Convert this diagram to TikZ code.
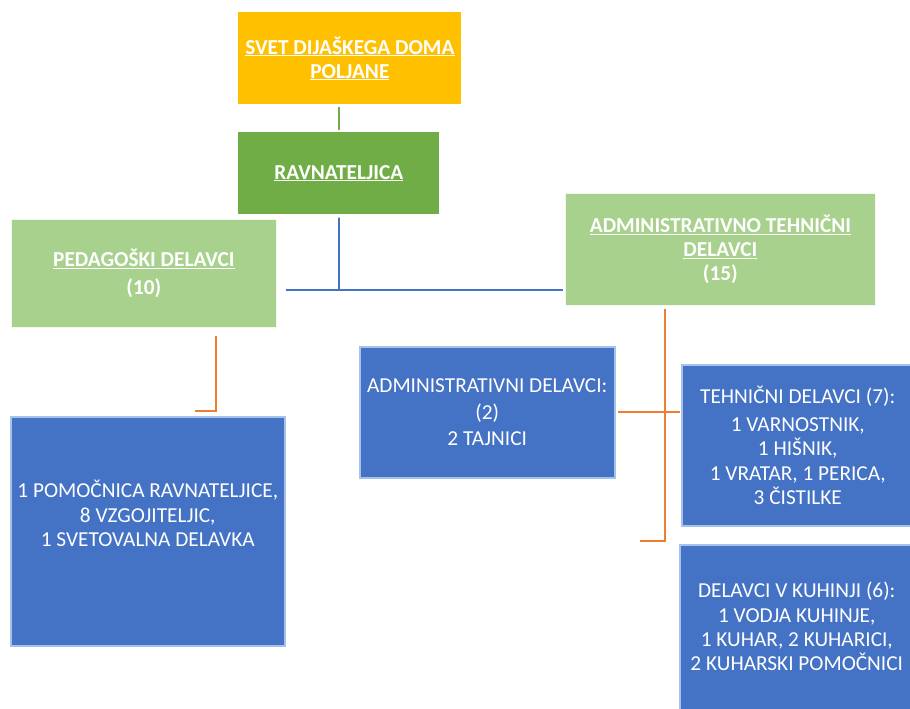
\documentclass[tikz,border=0pt]{standalone}
\usepackage{fontspec}
\setmainfont{Carlito}
\usetikzlibrary{positioning}
\definecolor{zlata}{HTML}{FFC000}
\definecolor{zelena}{HTML}{70AD47}
\definecolor{svetlozelena}{HTML}{A9D18E}
\definecolor{modra}{HTML}{4472C4}
\definecolor{robmodra}{HTML}{A4C2EA}
\definecolor{oranzna}{HTML}{ED7D31}
\newcommand{\dvigni}[2]{\raisebox{#1}[0pt][0pt]{\begin{tabular}{@{}c@{}}#2\end{tabular}}}

\begin{document}
\begin{tikzpicture}[x=1pt,y=-1pt,thin]
\tikzstyle{every node}=[font=\fontsize{21.3}{24.2}\selectfont, text=white, align=center, inner sep=0pt]
\tikzstyle{box}=[rectangle, anchor=north west]
\tikzstyle{naslov}=[box, font=\fontsize{21.3}{24}\selectfont\bfseries, draw=white!85!svetlozelena, line width=0.8pt]
\tikzstyle{oddelek}=[box, fill=modra, draw=robmodra, line width=1.5pt]
\tikzstyle{povezava}=[line width=1.8pt]

\useasboundingbox (0,0) rectangle (910,709);
\clip (0,0) rectangle (910,709);

\node[naslov]   (svet) at (238,12) [fill=zlata, draw=none, minimum width=223, minimum height=92] {\underline{SVET DIJAŠKEGA DOMA}\\\underline{POLJANE}};
\node[naslov]   (ravn) [below=27pt of svet.south west, anchor=north west, fill=zelena, draw=none, minimum width=201, minimum height=82] {\underline{RAVNATELJICA}};
\node[naslov]   (ped)  at (11,219) [fill=svetlozelena, minimum width=265, minimum height=108] {\underline{PEDAGOŠKI DELAVCI}\\[4pt](10)};
\node[naslov]   (admt) at (565,193) [fill=svetlozelena, minimum width=310, minimum height=112] {\underline{ADMINISTRATIVNO TEHNIČNI}\\\underline{DELAVCI}\\(15)};

\node[oddelek]  (vzg)  at (10,416) [minimum width=274, minimum height=229] {\dvigni{9pt}{1 POMOČNICA RAVNATELJICE,\\8 VZGOJITELJIC,\\1 SVETOVALNA DELAVKA}};
\node[oddelek]  (admd) at (359,346) [minimum width=255, minimum height=131] {ADMINISTRATIVNI DELAVCI:\\[2pt](2)\\[2pt]2 TAJNICI};
\node[oddelek]  (teh)  at (681,364) [minimum width=232, minimum height=161] {TEHNIČNI DELAVCI (7):\\[4pt]1 VARNOSTNIK,\\1 HIŠNIK,\\1 VRATAR, 1 PERICA,\\3 ČISTILKE};
\node[oddelek]  (kuh)  at (679,544) [minimum width=234, minimum height=180] {\dvigni{0pt}{DELAVCI V KUHINJI (6):\\1 VODJA KUHINJE,\\1 KUHAR, 2 KUHARICI,\\2 KUHARSKI POMOČNICI}};

\coordinate (spoj) at (339,290);
\coordinate (kolenol) at (216,411);
\coordinate (kolenod) at (665,541);

\draw[povezava, zelena, shorten <=2pt, shorten >=2pt] (svet.south -| ravn.north) -- (ravn.north);
\draw[povezava, modra, shorten <=3pt] (ravn.south) -- (spoj);
\draw[povezava, modra, shorten <=9pt, shorten >=2pt] (ped.east |- spoj) -- (admt.west |- spoj);
\draw[povezava, oranzna, shorten <=8pt] (ped.south -| kolenol) -- (kolenol) -- ++(-21,0);
\draw[povezava, oranzna, shorten <=3pt] (admt.south -| kolenod) -- (kolenod) -- ++(-25,0);
\draw[povezava, oranzna, shorten <=2pt, shorten >=1pt] (admd.east) -- (admd.east -| teh.west);
\end{tikzpicture}
\end{document}
